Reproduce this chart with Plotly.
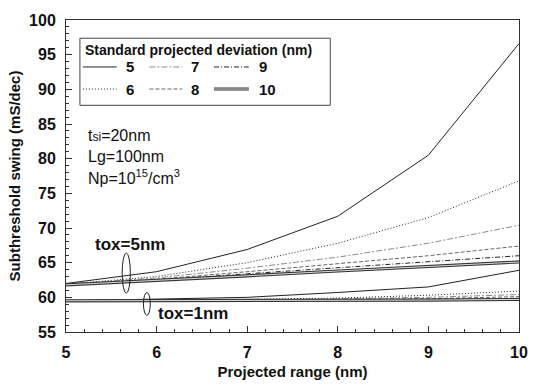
import plotly.graph_objects as go

# ---------------- data ----------------
projected_range = [5, 6, 7, 8, 9, 10]
std_devs = [5, 6, 7, 8, 9, 10]

# tox = 5 nm
tox5_sd5 = [62.0, 63.7, 66.9, 71.7, 80.5, 96.6]
tox5_sd6 = [61.9, 63.0, 65.0, 67.8, 71.5, 76.8]
tox5_sd7 = [61.9, 62.8, 64.2, 65.8, 67.8, 70.4]
tox5_sd8 = [61.8, 62.6, 63.7, 64.9, 66.0, 67.4]
tox5_sd9 = [61.8, 62.5, 63.4, 64.3, 65.1, 66.0]
tox5_sd10 = [61.8, 62.4, 63.1, 63.8, 64.4, 65.1]

# tox = 1 nm
tox1_sd5 = [59.5, 59.7, 60.0, 60.7, 61.5, 63.9]
tox1_sd6 = [59.5, 59.5, 59.7, 59.9, 60.3, 60.9]
tox1_sd7 = [59.5, 59.5, 59.6, 59.8, 60.0, 60.4]
tox1_sd8 = [59.5, 59.5, 59.6, 59.7, 59.8, 60.1]
tox1_sd9 = [59.5, 59.5, 59.5, 59.6, 59.7, 59.8]
tox1_sd10 = [59.5, 59.5, 59.5, 59.5, 59.6, 59.7]

y_ticks = [55, 60, 65, 70, 75, 80, 85, 90, 95, 100]
x_ticks = [5, 6, 7, 8, 9, 10]

# ---------------- styles ----------------
styles = {
    5: dict(color="#222222", dash="solid", width=1),
    6: dict(color="#222222", dash="1px,2px", width=1),
    7: dict(color="#8a8a8a", dash="6px,2px,2px,2px", width=1),
    8: dict(color="#666666", dash="4px,2px", width=1),
    9: dict(color="#222222", dash="5px,2px,1px,2px", width=1),
    10: dict(color="#333333", dash="solid", width=3.2),
}

tox5 = [tox5_sd5, tox5_sd6, tox5_sd7, tox5_sd8, tox5_sd9, tox5_sd10]
tox1 = [tox1_sd5, tox1_sd6, tox1_sd7, tox1_sd8, tox1_sd9, tox1_sd10]

fig = go.Figure()
for group in (tox1, tox5):
    for sd, ys in zip(std_devs, group):
        st = styles[sd]
        fig.add_trace(go.Scatter(x=projected_range, y=ys, mode="lines",
                                 line=dict(color=st["color"], dash=st["dash"], width=st["width"]),
                                 showlegend=False, hoverinfo="skip"))
        if sd == 10:
            fig.add_trace(go.Scatter(x=projected_range, y=ys, mode="lines",
                                     line=dict(color="#dddddd", width=1),
                                     showlegend=False, hoverinfo="skip"))

# ---------------- layout helpers (pixel -> paper) ----------------
L, R, T, B = 66, 522, 15, 340.5
W, H = R - L, B - T
def px(x):
    return (x - L) / W
def py(y):
    return (B - y) / H

FONT = "Arial, Liberation Sans, sans-serif"
shapes = []
annotations = []

# ellipses
shapes.append(dict(type="circle", xref="x", yref="y", x0=5.62, x1=5.71, y0=60.6, y1=66.4,
                   line=dict(color="#222", width=1)))
shapes.append(dict(type="circle", xref="x", yref="y", x0=5.855, x1=5.93, y0=57.4, y1=60.7,
                   line=dict(color="#222", width=1)))
annotations.append(dict(x=5.71, y=67.6, xref="x", yref="y", text="<b>tox=5nm</b>", showarrow=False,
                        font=dict(size=17, family=FONT, color="#111")))
annotations.append(dict(x=6.40, y=57.7, xref="x", yref="y", text="<b>tox=1nm</b>", showarrow=False,
                        font=dict(size=17, family=FONT, color="#111")))

# parameter text
for txt, yy in [("t<span style='font-size:12px'>si</span>=20nm", 135),
                ("Lg=100nm", 157),
                ("Np=10<sup>15</sup>/cm<sup>3</sup>", 179)]:
    annotations.append(dict(x=px(86), y=py(yy), xref="paper", yref="paper", text=txt, showarrow=False,
                            xanchor="left", yanchor="middle",
                            font=dict(size=16, family=FONT, color="#111")))

# manual legend box
shapes.append(dict(type="rect", xref="paper", yref="paper", x0=px(80), x1=px(332), y0=py(104), y1=py(34),
                   line=dict(color="#444", width=1), fillcolor="white", layer="above"))
annotations.append(dict(x=px(83), y=py(46), xref="paper", yref="paper",
                        text="<b>Standard projected deviation (nm)</b>", showarrow=False,
                        xanchor="left", yanchor="middle", font=dict(size=14, family=FONT, color="#111")))
cols = [(83, 117, 124), (150, 183, 190), (215, 250, 258)]
rows = [64, 87]
order = [5, 7, 9, 6, 8, 10]
pos = [(0, 0), (1, 0), (2, 0), (0, 1), (1, 1), (2, 1)]
for sd, (c, r) in zip(order, pos):
    x0, x1, xt = cols[c]
    yy = rows[r]
    st = styles[sd]
    shapes.append(dict(type="line", xref="paper", yref="paper", x0=px(x0), x1=px(x1), y0=py(yy), y1=py(yy),
                       line=dict(color=st["color"], width=st["width"], dash=st["dash"]), layer="above"))
    if sd == 10:
        shapes.append(dict(type="line", xref="paper", yref="paper", x0=px(x0), x1=px(x1), y0=py(yy), y1=py(yy),
                           line=dict(color="#dddddd", width=1), layer="above"))
    annotations.append(dict(x=px(xt), y=py(yy), xref="paper", yref="paper", text=f"<b>{sd}</b>",
                            showarrow=False, xanchor="left", yanchor="middle",
                            font=dict(size=15, family=FONT, color="#111")))

fig.update_layout(
    width=540, height=390,
    margin=dict(l=L, r=540 - R, t=T, b=390 - B),
    paper_bgcolor="white", plot_bgcolor="white",
    shapes=shapes, annotations=annotations,
    font=dict(family=FONT, color="#111"),
    xaxis=dict(range=[5, 10], tickvals=x_ticks, ticks="inside", ticklen=6, tickcolor="#333",
               showgrid=False, zeroline=False, showline=True, linecolor="#333", linewidth=1, mirror=True,
               minor=dict(dtick=0.2, ticks="inside", ticklen=3, tickcolor="#333"),
               tickfont=dict(size=16, family=FONT, color="#111", weight="bold"), ticklabelstandoff=6,
               title=dict(text="<b>Projected range (nm)</b>",
                          font=dict(size=15, family=FONT, color="#111"), standoff=6)),
    yaxis=dict(range=[55, 100], tickvals=y_ticks, ticks="inside", ticklen=6, tickcolor="#333",
               showgrid=False, zeroline=False, showline=True, linecolor="#333", linewidth=1, mirror=True,
               minor=dict(dtick=1, ticks="inside", ticklen=3, tickcolor="#333"),
               tickfont=dict(size=16, family=FONT, color="#111", weight="bold"), ticklabelstandoff=6,
               title=dict(text="<b>Subthreshold swing (mS/dec)</b>",
                          font=dict(size=15, family=FONT, color="#111"), standoff=4)),
)

fig.write_html("out.html")
